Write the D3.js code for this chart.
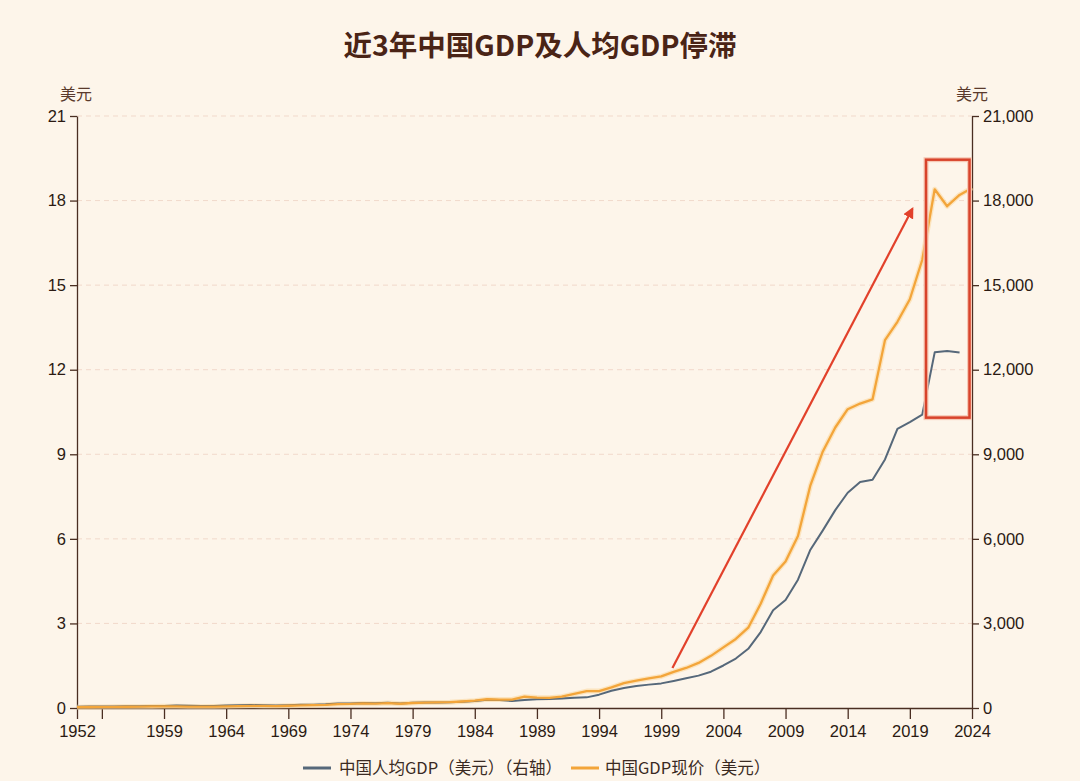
<!DOCTYPE html>
<html><head><meta charset="utf-8">
<script src="https://cdn.jsdelivr.net/npm/d3@7"></script>
<style>
html,body{margin:0;padding:0;background:#fdf5ea;}
svg{display:block;font-family:"Noto Sans CJK SC","Noto Sans",sans-serif;}
</style></head><body>
<svg id="c" width="1080" height="781"></svg>
<script>
const years = d3.range(1952, 2025);
// 中国GDP现价 (万亿美元, left axis)
const gdp = [0.03,0.035,0.037,0.04,0.045,0.048,0.055,0.06,0.06,0.05,
  0.047,0.051,0.06,0.07,0.077,0.073,0.07,0.079,0.093,0.10,
  0.114,0.139,0.144,0.163,0.154,0.175,0.15,0.178,0.191,0.196,
  0.205,0.23,0.26,0.31,0.30,0.30,0.40,0.37,0.36,0.40,
  0.50,0.60,0.60,0.73,0.88,0.97,1.05,1.12,1.28,1.42,
  1.6,1.85,2.15,2.45,2.85,3.7,4.7,5.2,6.1,7.9,
  9.1,9.95,10.6,10.8,10.95,13.05,13.7,14.5,15.9,18.4,
  17.8,18.2,18.45];
// 中国人均GDP (美元, right axis), through 2023
const gdpPc = [45,50,52,55,60,62,70,75,90,76,
  70,74,85,98,104,97,91,100,113,119,
  132,157,160,178,165,185,156,184,195,197,
  203,225,251,294,281,252,284,311,318,333,
  366,377,473,610,709,782,829,873,959,1053,
  1148,1288,1508,1753,2099,2694,3468,3832,4550,5614,
  6301,7020,7636,8016,8094,8817,9905,10144,10409,12617,
  12663,12614];
const leftTicks = [0,3,6,9,12,15,18,21];
const rightTicks = [0,3000,6000,9000,12000,15000,18000,21000];
const xTicks = [1952,1954,1959,1964,1969,1974,1979,1984,1989,1994,1999,2004,2009,2014,2019,2024];
const title = "近3年中国GDP及人均GDP停滞";
const unitLabel = "美元";
const seriesNames = ["中国人均GDP（美元）（右轴）","中国GDP现价（美元）"];
// annotations (data coords)
const arrowFrom = {year:1999.9, v:1.42}, arrowTo = {year:2019.2, v:17.7};
const boxRange = {y0:2020.3, y1:2023.8, v0:10.3, v1:19.45};

const svg = d3.select("#c");
const m = {l:77, r:1080-972, t:116, b:781-708};
const W = 1080, H = 781;
const x = d3.scaleLinear().domain([1952,2024]).range([m.l, W-m.r]);
const yL = d3.scaleLinear().domain([0,21]).range([H-m.b, m.t]);
const yR = d3.scaleLinear().domain([0,21000]).range([H-m.b, m.t]);
const axisCol = "#4a2e22", textCol = "#2b1a12";

svg.append("rect").attr("width",W).attr("height",H).attr("fill","#fdf5ea");

// grid
svg.append("g").selectAll("line").data(leftTicks.filter(d=>d>0)).join("line")
  .attr("x1",m.l).attr("x2",W-m.r).attr("y1",d=>yL(d)).attr("y2",d=>yL(d))
  .attr("stroke","#f1d9cb").attr("stroke-width",1).attr("stroke-dasharray","5,4");

// title
svg.append("text").attr("x",540).attr("y",56).attr("text-anchor","middle")
  .attr("font-size",28.5).attr("font-weight","bold").attr("fill","#4a2416").text(title);

// unit labels
svg.append("text").attr("x",76).attr("y",100).attr("text-anchor","middle")
  .attr("font-size",16).attr("fill","#5a3a2c").text(unitLabel);
svg.append("text").attr("x",972).attr("y",100).attr("text-anchor","middle")
  .attr("font-size",16).attr("fill","#5a3a2c").text(unitLabel);

function styleAxis(g){
  g.selectAll(".domain").attr("stroke",axisCol).attr("stroke-width",1.3);
  g.selectAll(".tick line").attr("stroke",axisCol).attr("stroke-width",1.3);
  g.selectAll(".tick text").attr("fill",textCol).attr("font-size",16.5)
    .attr("font-family","'Liberation Sans',Arial,sans-serif");
}
const gL = svg.append("g").attr("transform",`translate(${m.l},0)`)
  .call(d3.axisLeft(yL).tickValues(leftTicks).tickSize(7).tickSizeOuter(0).tickPadding(4));
styleAxis(gL);
const gR = svg.append("g").attr("transform",`translate(${W-m.r},0)`)
  .call(d3.axisRight(yR).tickValues(rightTicks).tickSize(7).tickSizeOuter(0).tickPadding(4)
    .tickFormat(d3.format(",")));
styleAxis(gR);
const gX = svg.append("g").attr("transform",`translate(0,${H-m.b})`)
  .call(d3.axisBottom(x).tickValues(xTicks).tickSize(11).tickSizeOuter(0).tickPadding(6)
    .tickFormat(d=> d===1954 ? "" : String(d)));
styleAxis(gX);

// lines
const lineG = d3.line().x((d,i)=>x(years[i])).y(d=>yL(d));
const lineP = d3.line().x((d,i)=>x(years[i])).y(d=>yR(d));
svg.append("path").datum(gdp).attr("d",lineG).attr("fill","none")
  .attr("stroke","#fbd9a0").attr("stroke-width",5).attr("stroke-opacity",0.6).attr("stroke-linejoin","round");
svg.append("path").datum(gdpPc).attr("d",lineP).attr("fill","none")
  .attr("stroke","#56687a").attr("stroke-width",2).attr("stroke-linejoin","round");
svg.append("path").datum(gdp).attr("d",lineG).attr("fill","none")
  .attr("stroke","#f3a53a").attr("stroke-width",2.3).attr("stroke-linejoin","round");

// arrow
const defs = svg.append("defs");
defs.append("marker").attr("id","ah").attr("viewBox","0 0 10 10").attr("refX",8).attr("refY",5)
  .attr("markerWidth",5).attr("markerHeight",5).attr("orient","auto")
  .append("path").attr("d","M0,0 L10,5 L0,10 z").attr("fill","#e2412b");
svg.append("line").attr("x1",x(arrowFrom.year)).attr("y1",yL(arrowFrom.v))
  .attr("x2",x(arrowTo.year)).attr("y2",yL(arrowTo.v))
  .attr("stroke","#e2412b").attr("stroke-width",2.2).attr("marker-end","url(#ah)");

// box
svg.append("rect").attr("x",x(boxRange.y0)).attr("y",yL(boxRange.v1))
  .attr("width",x(boxRange.y1)-x(boxRange.y0)).attr("height",yL(boxRange.v0)-yL(boxRange.v1))
  .attr("fill","none").attr("stroke","#f6c9b6").attr("stroke-width",5);
svg.append("rect").attr("x",x(boxRange.y0)).attr("y",yL(boxRange.v1))
  .attr("width",x(boxRange.y1)-x(boxRange.y0)).attr("height",yL(boxRange.v0)-yL(boxRange.v1))
  .attr("fill","none").attr("stroke","#d8432b").attr("stroke-width",2.5);

// legend
const lg = svg.append("g");
lg.append("line").attr("x1",303).attr("x2",331).attr("y1",768).attr("y2",768)
  .attr("stroke","#56687a").attr("stroke-width",3);
lg.append("text").attr("x",339).attr("y",774).attr("font-size",16.5).attr("fill","#3a2a22").text(seriesNames[0]);
lg.append("line").attr("x1",571).attr("x2",599).attr("y1",768).attr("y2",768)
  .attr("stroke","#f3a53a").attr("stroke-width",3);
lg.append("text").attr("x",605).attr("y",774).attr("font-size",16.5).attr("fill","#3a2a22").text(seriesNames[1]);
</script></body></html>
